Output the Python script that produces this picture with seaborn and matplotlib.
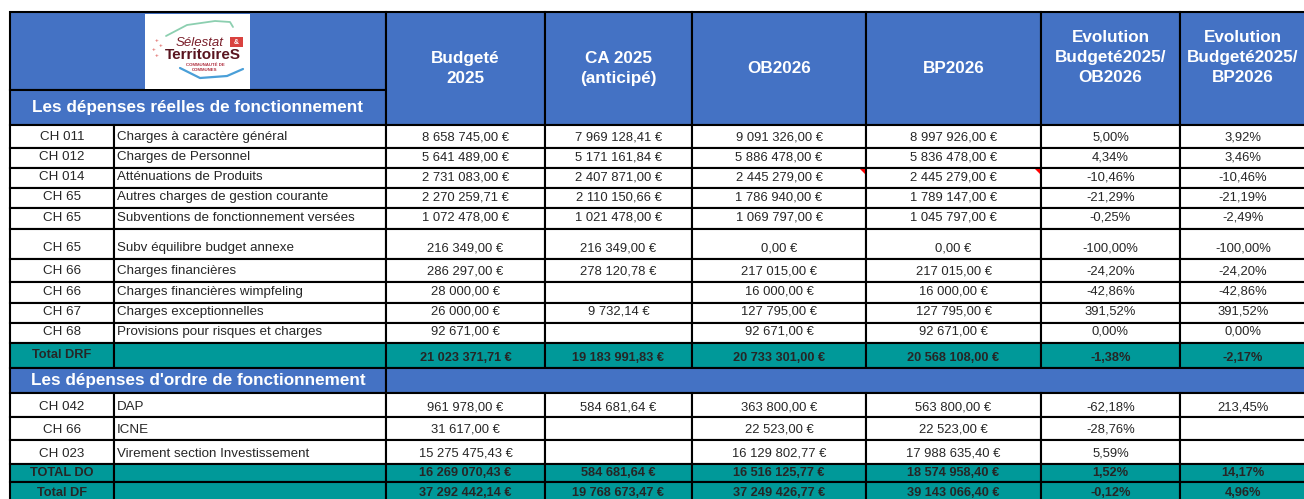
import matplotlib
matplotlib.use("Agg")
import matplotlib.pyplot as plt
from matplotlib.patches import Rectangle, Polygon
import seaborn as sns

# ---------------- data ----------------
col_headers = ["Budgeté\n2025", "CA 2025\n(anticipé)", "OB2026", "BP2026",
               "Evolution\nBudgeté2025/\nOB2026", "Evolution\nBudgeté2025/\nBP2026"]
section_reel = "Les dépenses réelles de fonctionnement"
section_ordre = "Les dépenses d'ordre de fonctionnement"

codes_reel = ["CH 011", "CH 012", "CH 014", "CH 65", "CH 65", "CH 65",
              "CH 66", "CH 66", "CH 67", "CH 68"]
labels_reel = ["Charges à caractère général", "Charges de Personnel",
               "Atténuations de Produits", "Autres charges de gestion courante",
               "Subventions de fonctionnement versées", "Subv équilibre budget annexe",
               "Charges financières", "Charges financières wimpfeling",
               "Charges exceptionnelles", "Provisions pour risques et charges"]
budgete_reel = [8658745.00, 5641489.00, 2731083.00, 2270259.71, 1072478.00,
                216349.00, 286297.00, 28000.00, 26000.00, 92671.00]
ca_reel = [7969128.41, 5171161.84, 2407871.00, 2110150.66, 1021478.00,
           216349.00, 278120.78, None, 9732.14, None]
ob_reel = [9091326.00, 5886478.00, 2445279.00, 1786940.00, 1069797.00,
           0.00, 217015.00, 16000.00, 127795.00, 92671.00]
bp_reel = [8997926.00, 5836478.00, 2445279.00, 1789147.00, 1045797.00,
           0.00, 217015.00, 16000.00, 127795.00, 92671.00]
evol_ob_reel = [5.00, 4.34, -10.46, -21.29, -0.25, -100.00, -24.20, -42.86, 391.52, 0.00]
evol_bp_reel = [3.92, 3.46, -10.46, -21.19, -2.49, -100.00, -24.20, -42.86, 391.52, 0.00]

total_drf_label = "Total DRF"
total_drf = [21023371.71, 19183991.83, 20733301.00, 20568108.00]
total_drf_evol = [-1.38, -2.17]

codes_ordre = ["CH 042", "CH 66", "CH 023"]
labels_ordre = ["DAP", "ICNE", "Virement section Investissement"]
budgete_ordre = [961978.00, 31617.00, 15275475.43]
ca_ordre = [584681.64, None, None]
ob_ordre = [363800.00, 22523.00, 16129802.77]
bp_ordre = [563800.00, 22523.00, 17988635.40]
evol_ob_ordre = [-62.18, -28.76, 5.59]
evol_bp_ordre = [213.45, None, None]

total_do_label = "TOTAL DO"
total_do = [16269070.43, 584681.64, 16516125.77, 18574958.40]
total_do_evol = [1.52, 14.17]

total_df_label = "Total DF"
total_df = [37292442.14, 19768673.47, 37249426.77, 39143066.40]
total_df_evol = [-0.12, 4.96]

# ---------------- style ----------------
sns.set_theme(style="white")
plt.rcParams["font.family"] = ["Liberation Sans", "DejaVu Sans"]

BLUE = "#4472C4"
TEAL = "#009999"
LW = 1.5

W, H = 1304, 499
fig = plt.figure(figsize=(W / 100, H / 100), dpi=100)
ax = fig.add_axes([0, 0, 1, 1])
ax.set_xlim(0, W)
ax.set_ylim(H, 0)
ax.axis("off")

cols = [10, 114, 386, 545, 692, 866, 1041, 1180, 1306]

FS_LABEL = 9.6
FS_VAL = 9.4
FS_VAL_B = 9.2
FS_HEAD = 12.3


def fmt_eur(v):
    if v is None:
        return ""
    s = f"{v:,.2f}".replace(",", " ").replace(".", ",")
    return s + " €"


def fmt_pct(v):
    if v is None:
        return ""
    return f"{v:.2f}".replace(".", ",") + "%"


def cell(x0, x1, y0, y1, color="white", lw=LW):
    ax.add_patch(Rectangle((x0, y0), x1 - x0, y1 - y0, facecolor=color,
                           edgecolor="black", linewidth=lw, zorder=1))


def data_row(y0, y1, code, label, values, pct, fill="white", bold=False,
             off=11, code_center=False):
    weight = "bold" if bold else "normal"
    fsv = FS_VAL_B if bold else FS_VAL
    for i in range(len(cols) - 1):
        cell(cols[i], cols[i + 1], y0, y1, fill)
    ty = y1 - off
    cy = (y0 + y1) / 2 if code_center else ty
    ax.text((cols[0] + cols[1]) / 2, cy, code, ha="center", va="center",
            fontsize=FS_LABEL if not bold else 9.2, fontweight=weight, zorder=3)
    if label:
        ax.text(cols[1] + 3, ty, label, ha="left", va="center",
                fontsize=FS_LABEL, fontweight=weight, zorder=3)
    for j, v in enumerate(values):
        ax.text((cols[2 + j] + cols[3 + j]) / 2, ty, fmt_eur(v), ha="center",
                va="center", fontsize=fsv, fontweight=weight, zorder=3)
    for j, v in enumerate(pct):
        ax.text((cols[6 + j] + cols[7 + j]) / 2, ty, fmt_pct(v), ha="center",
                va="center", fontsize=fsv, fontweight=weight, zorder=3)


# ---------------- header ----------------
cell(cols[0], cols[2], 12, 90, BLUE)
cell(cols[0], cols[2], 90, 125, BLUE)
ax.text((cols[0] + cols[2]) / 2, 107, section_reel, ha="center", va="center",
        color="white", fontsize=FS_HEAD, fontweight="bold", zorder=3)
for j, h in enumerate(col_headers):
    cell(cols[2 + j], cols[3 + j], 12, 125, BLUE)
    yc = 57.5 if h.count("\n") == 2 else 68.5
    ax.text((cols[2 + j] + cols[3 + j]) / 2, yc, h, ha="center", va="center",
            color="white", fontsize=FS_HEAD, fontweight="bold", linespacing=1.4,
            zorder=3)

# logo (drawn as text in a white box)
ax.add_patch(Rectangle((145, 14), 105, 75, facecolor="white", edgecolor="none",
                       zorder=2))
ax.plot([166, 187, 215, 230, 233], [36, 25, 21, 22, 27], color="#8ccfb0",
        lw=1.3, zorder=3)
ax.plot([180, 200, 227, 243], [68, 78, 76, 69], color="#4a9fd8", lw=1.6,
        zorder=3)
ax.text(200, 43, "Sélestat", ha="center", va="center", color="#7a1f2b",
        fontsize=9.5, fontstyle="italic", zorder=4)
ax.add_patch(Rectangle((230, 37), 13, 10, facecolor="#d9423f", edgecolor="none",
                       zorder=4))
ax.text(236.5, 42, "&", ha="center", va="center", color="white", fontsize=5,
        fontweight="bold", zorder=5)
ax.text(203, 55, "TerritoireS", ha="center", va="center", color="#5a1520",
        fontsize=11, fontweight="bold", zorder=4)
ax.text(205, 64.5, "COMMUNAUTÉ DE", ha="center", va="center", color="#b03040",
        fontsize=3.2, fontweight="bold", zorder=4)
ax.text(205, 69.5, "COMMUNES", ha="center", va="center", color="#b03040",
        fontsize=3.2, fontweight="bold", zorder=4)
for (sx, sy) in [(157, 40), (161, 45), (154, 49), (157, 55)]:
    ax.text(sx, sy, "+", ha="center", va="center", color="#d9423f",
            fontsize=4.5, zorder=4)

# ---------------- réelles ----------------
edges_reel = [125, 148, 168, 188, 208, 229, 259, 282, 303, 323, 343]
for i in range(len(codes_reel)):
    data_row(edges_reel[i], edges_reel[i + 1], codes_reel[i], labels_reel[i],
             [budgete_reel[i], ca_reel[i], ob_reel[i], bp_reel[i]],
             [evol_ob_reel[i], evol_bp_reel[i]])

# comment markers
for xr in (cols[5], cols[6]):
    ax.add_patch(Polygon([[xr - 6, 169], [xr - 1, 169], [xr - 1, 174]],
                         facecolor="red", edgecolor="none", zorder=4))

data_row(343, 368, total_drf_label, "", total_drf, total_drf_evol, TEAL,
         bold=True, off=10, code_center=True)

# ---------------- ordre ----------------
cell(cols[0], cols[2], 368, 393, BLUE)
ax.add_patch(Rectangle((cols[2], 368), cols[-1] - cols[2], 25, facecolor=BLUE,
                       edgecolor="black", linewidth=LW, zorder=1))
ax.text((cols[0] + cols[2]) / 2, 381, section_ordre, ha="center", va="center",
        color="white", fontsize=FS_HEAD, fontweight="bold", zorder=3)

edges_ordre = [393, 417, 440, 464]
for i in range(len(codes_ordre)):
    data_row(edges_ordre[i], edges_ordre[i + 1], codes_ordre[i], labels_ordre[i],
             [budgete_ordre[i], ca_ordre[i], ob_ordre[i], bp_ordre[i]],
             [evol_ob_ordre[i], evol_bp_ordre[i]], off=10)

data_row(464, 482, total_do_label, "", total_do, total_do_evol, TEAL, bold=True,
         off=9)
data_row(482, 503, total_df_label, "", total_df, total_df_evol, TEAL, bold=True,
         off=10)

fig.savefig("out.png", dpi=100, facecolor="white")
